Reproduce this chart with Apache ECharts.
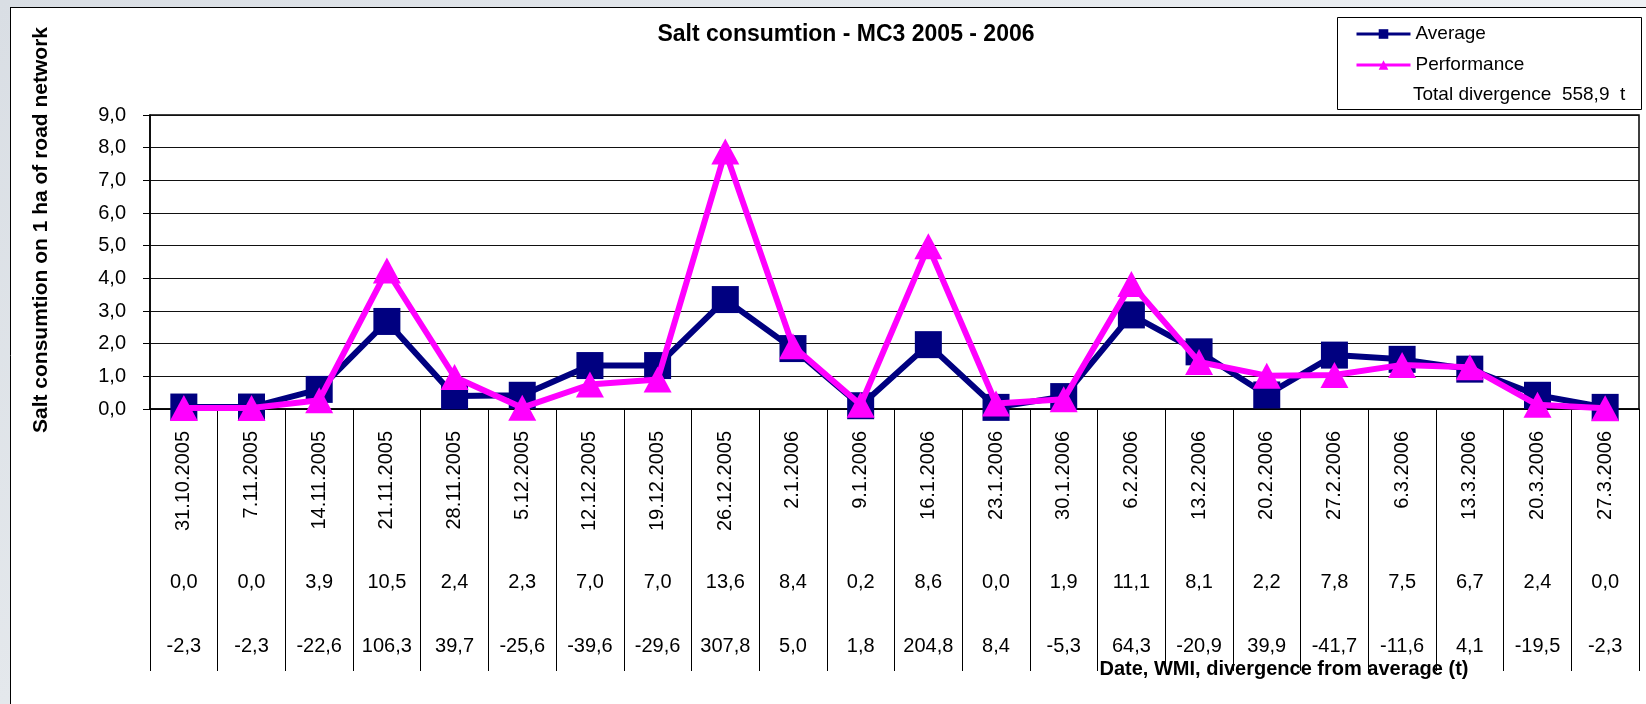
<!DOCTYPE html>
<html>
<head>
<meta charset="utf-8">
<title>Salt consumtion - MC3 2005 - 2006</title>
<script src="https://cdn.jsdelivr.net/npm/echarts@6/dist/echarts.min.js"></script>
<style>
  html, body { margin: 0; padding: 0; background: #fff; }
  #chart { width: 1646px; height: 704px; }
</style>
</head>
<body>
<div id="chart"></div>
<script>
// categories (week dates)
const dates = ['31.10.2005', '7.11.2005', '14.11.2005', '21.11.2005', '28.11.2005', '5.12.2005',
  '12.12.2005', '19.12.2005', '26.12.2005', '2.1.2006', '9.1.2006', '16.1.2006', '23.1.2006',
  '30.1.2006', '6.2.2006', '13.2.2006', '20.2.2006', '27.2.2006', '6.3.2006', '13.3.2006',
  '20.3.2006', '27.3.2006']
// WMI row and divergence row under the dates
const wmi = ['0,0', '0,0', '3,9', '10,5', '2,4', '2,3', '7,0', '7,0', '13,6', '8,4', '0,2',
  '8,6', '0,0', '1,9', '11,1', '8,1', '2,2', '7,8', '7,5', '6,7', '2,4', '0,0']
const divergence = ['-2,3', '-2,3', '-22,6', '106,3', '39,7', '-25,6', '-39,6', '-29,6', '307,8',
  '5,0', '1,8', '204,8', '8,4', '-5,3', '64,3', '-20,9', '39,9', '-41,7', '-11,6', '4,1',
  '-19,5', '-2,3']
// series values (t per ha)
const average = [0.06, 0.06, 0.6, 2.68, 0.4, 0.42, 1.33, 1.33, 3.35, 1.85, 0.1, 1.97, 0.05,
  0.38, 2.88, 1.75, 0.43, 1.65, 1.52, 1.22, 0.42, 0.05]
const performance = [0.03, 0.03, 0.27, 4.24, 0.98, 0.04, 0.75, 0.9, 7.88, 1.92, 0.13, 4.98, 0.17,
  0.3, 3.83, 1.44, 1.02, 1.04, 1.35, 1.28, 0.13, 0.02]
const totalDivergence = '558,9'

const font = '"Liberation Sans", Arial, sans-serif'
const navy = '#000080'
const magenta = '#ff00ff'

const chart = echarts.init(document.getElementById('chart'))

// extra label rows under the date axis
const rowAxis = (data, margin) => ({
  type: 'category',
  position: 'bottom',
  data: data,
  boundaryGap: true,
  axisLine: { show: false },
  axisTick: { show: false },
  splitLine: { show: false },
  axisLabel: { interval: 0, margin: margin, color: '#000', fontSize: 20, fontFamily: font }
})

chart.setOption({
  animation: false,
  backgroundColor: '#fff',
  grid: {
    left: 150, right: 7, top: 115, bottom: 295,
    show: true, borderColor: '#000', borderWidth: 1.5, backgroundColor: '#fff',
    outerBoundsMode: 'none'
  },
  legend: {
    data: ['Average', 'Performance'],
    orient: 'vertical',
    left: 1350, top: 19,
    itemWidth: 54, itemHeight: 12, itemGap: 11,
    lineStyle: { width: 3 },
    textStyle: { color: '#000', fontSize: 19, lineHeight: 20, fontFamily: font }
  },
  xAxis: [
    {
      type: 'category',
      data: dates,
      boundaryGap: true,
      axisLine: { lineStyle: { color: '#000', width: 1.5 } },
      axisTick: { show: true, length: 262, lineStyle: { color: '#000', width: 1 } },
      axisLabel: { interval: 0, rotate: 90, margin: 22, color: '#000', fontSize: 20, fontFamily: font }
    },
    rowAxis(wmi, 163),
    rowAxis(divergence, 227)
  ],
  yAxis: {
    type: 'value',
    min: 0, max: 9, interval: 1,
    axisLine: { show: true, lineStyle: { color: '#000', width: 1.5 } },
    axisTick: { show: true, length: 7, lineStyle: { color: '#000' } },
    splitLine: { lineStyle: { color: '#111', width: 1.2 } },
    axisLabel: {
      margin: 24, color: '#000', fontSize: 20, fontFamily: font,
      formatter: v => v.toFixed(1).replace('.', ',')
    }
  },
  series: [
    {
      name: 'Average',
      type: 'line',
      data: average,
      color: navy,
      lineStyle: { width: 6, color: navy },
      itemStyle: { color: navy },
      symbol: 'rect',
      symbolSize: 27,
      z: 2
    },
    {
      name: 'Performance',
      type: 'line',
      data: performance,
      color: magenta,
      lineStyle: { width: 6, color: magenta },
      itemStyle: { color: magenta },
      symbol: 'triangle',
      symbolSize: [28, 26],
      z: 3
    }
  ],
  graphic: [
    // window frame strips
    {
      type: 'rect', x: 0, y: 0, shape: { width: 1646, height: 7 }, silent: true,
      style: { fill: new echarts.graphic.LinearGradient(0, 0, 1, 0, [
        { offset: 0, color: '#d9dee4' }, { offset: 1, color: '#eef1f4' }
      ]) }
    },
    {
      type: 'rect', x: 0, y: 0, shape: { width: 10, height: 704 }, silent: true,
      style: { fill: new echarts.graphic.LinearGradient(0, 0, 0, 1, [
        { offset: 0, color: '#d9dee4' }, { offset: 1, color: '#e4e8ec' }
      ]) }
    },
    { type: 'line', shape: { x1: 10, y1: 7.5, x2: 1646, y2: 7.5 }, style: { stroke: '#000', lineWidth: 1 }, silent: true },
    { type: 'line', shape: { x1: 10.5, y1: 7, x2: 10.5, y2: 704 }, style: { stroke: '#000', lineWidth: 1 }, silent: true },
    // legend box
    {
      type: 'rect', x: 1337.5, y: 17.5, shape: { width: 304, height: 92 }, z: -1, silent: true,
      style: { fill: '#fff', stroke: '#000', lineWidth: 1 }
    },
    {
      type: 'text', x: 1413, y: 95, silent: true,
      style: { text: 'Total divergence  ' + totalDivergence + '  t', fill: '#000', font: '19px ' + font, textVerticalAlign: 'middle' }
    },
    // titles
    {
      type: 'text', x: 846, y: 35, silent: true,
      style: { text: 'Salt consumtion - MC3 2005 - 2006', fill: '#000', font: 'bold 23px ' + font, textAlign: 'center', textVerticalAlign: 'middle' }
    },
    {
      type: 'text', x: 41, y: 230, rotation: Math.PI / 2, silent: true,
      style: { text: 'Salt consumtion on 1 ha of road network', fill: '#000', font: 'bold 21px ' + font, textAlign: 'center', textVerticalAlign: 'middle' }
    },
    {
      type: 'text', x: 1284, y: 669, silent: true, z: 10,
      style: { text: 'Date, WMI, divergence from average (t)', fill: '#000', font: 'bold 20px ' + font, textAlign: 'center', textVerticalAlign: 'middle' }
    }
  ]
})
</script>
</body>
</html>
